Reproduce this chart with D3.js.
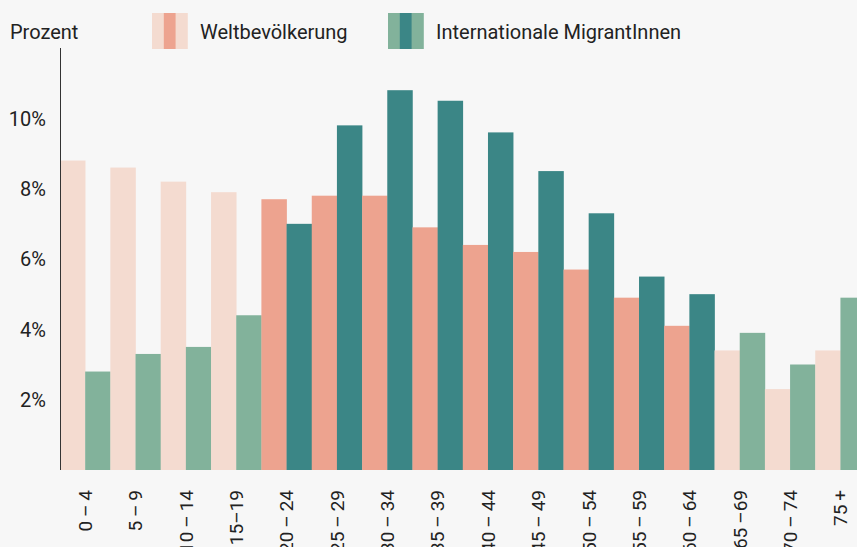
<!DOCTYPE html>
<html>
<head>
<meta charset="utf-8">
<script src="https://cdn.jsdelivr.net/npm/d3@7"></script>
<style>
  body { margin: 0; background: #f7f7f7; }
  svg { display: block; font-family: Roboto, "DejaVu Sans", sans-serif; }
  text { fill: #222; }
</style>
</head>
<body>
<svg id="chart"></svg>
<script>
// Altersgruppen
const categories = ["0 – 4", "5 – 9", "10 – 14", "15–19", "20 – 24", "25 – 29", "30 – 34",
  "35 – 39", "40 – 44", "45 – 49", "50 – 54", "55 – 59", "60 – 64", "65 –69", "70 – 74", "75 +"];
// Anteile in Prozent
const weltbevoelkerung = [8.8, 8.6, 8.2, 7.9, 7.7, 7.8, 7.8, 6.9, 6.4, 6.2, 5.7, 4.9, 4.1, 3.4, 2.3, 3.4];
const migrantInnen = [2.8, 3.3, 3.5, 4.4, 7.0, 9.8, 10.8, 10.5, 9.6, 8.5, 7.3, 5.5, 5.0, 3.9, 3.0, 4.9];
// Erwerbsalter (dunkler hervorgehoben)
const highlighted = ["20 – 24", "25 – 29", "30 – 34", "35 – 39", "40 – 44", "45 – 49", "50 – 54", "55 – 59", "60 – 64"];
const yTicks = [2, 4, 6, 8, 10];
const seriesNames = ["Weltbevölkerung", "Internationale MigrantInnen"];

const width = 857;
const height = 547;
const fontSize = 20;

const colors = {
  welt: { light: "#f4dbd0", dark: "#eda38f" },
  migr: { light: "#82b29b", dark: "#3b8686" }
};

const svg = d3.select("#chart")
  .attr("width", width)
  .attr("height", height);

const data = categories.map((c, i) => ({
  cat: c,
  welt: weltbevoelkerung[i],
  migr: migrantInnen[i],
  hi: highlighted.includes(c)
}));

const x = d3.scaleBand()
  .domain(categories)
  .range([60, 865.6])
  .padding(0);

const xInner = d3.scaleBand()
  .domain(["welt", "migr"])
  .range([0, x.bandwidth()]);

const y = d3.scaleLinear()
  .domain([0, 12])
  .range([470, 48]);

// Balken
const groups = svg.selectAll(".group")
  .data(data)
  .enter()
  .append("g")
  .attr("class", "group")
  .attr("transform", d => `translate(${x(d.cat)},0)`);

groups.selectAll("rect")
  .data(d => ["welt", "migr"].map(k => ({ key: k, value: d[k], hi: d.hi })))
  .enter()
  .append("rect")
  .attr("x", d => xInner(d.key))
  .attr("y", d => y(d.value))
  .attr("width", xInner.bandwidth() + 0.3)
  .attr("height", d => y(0) - y(d.value))
  .attr("fill", d => d.hi ? colors[d.key].dark : colors[d.key].light);

// Y-Achse
svg.append("line")
  .attr("x1", 60.5).attr("x2", 60.5)
  .attr("y1", y(12)).attr("y2", y(0))
  .attr("stroke", "#333")
  .attr("stroke-width", 1);

svg.selectAll(".ytick")
  .data(yTicks)
  .enter()
  .append("text")
  .attr("class", "ytick")
  .attr("x", 46)
  .attr("y", d => y(d))
  .attr("dy", "0.36em")
  .attr("text-anchor", "end")
  .attr("font-size", fontSize)
  .text(d => d + "%");

svg.append("text")
  .attr("x", 10)
  .attr("y", 32)
  .attr("dy", "0.36em")
  .attr("font-size", fontSize)
  .text("Prozent");

// X-Beschriftung (schmale Abstände um den Strich)
svg.selectAll(".xlabel")
  .data(categories)
  .enter()
  .append("text")
  .attr("class", "xlabel")
  .attr("transform", d => `translate(${x(d) + x.bandwidth() / 2},490) rotate(-90)`)
  .attr("dy", "0.36em")
  .attr("text-anchor", "end")
  .attr("font-size", 19)
  .text(d => d.replace(/ /g, "\u2009"));

// Legende
const legend = [
  { name: seriesNames[0], c: colors.welt, x: 152, order: ["light", "dark", "light"] },
  { name: seriesNames[1], c: colors.migr, x: 388, order: ["light", "dark", "light"] }
];

legend.forEach(l => {
  l.order.forEach((o, j) => {
    svg.append("rect")
      .attr("x", l.x + j * 11.8)
      .attr("y", 13)
      .attr("width", 12.2)
      .attr("height", 36)
      .attr("fill", l.c[o]);
  });
  svg.append("text")
    .attr("x", l.x + 48)
    .attr("y", 32)
    .attr("dy", "0.36em")
    .attr("font-size", fontSize)
    .text(l.name);
});
</script>
</body>
</html>
